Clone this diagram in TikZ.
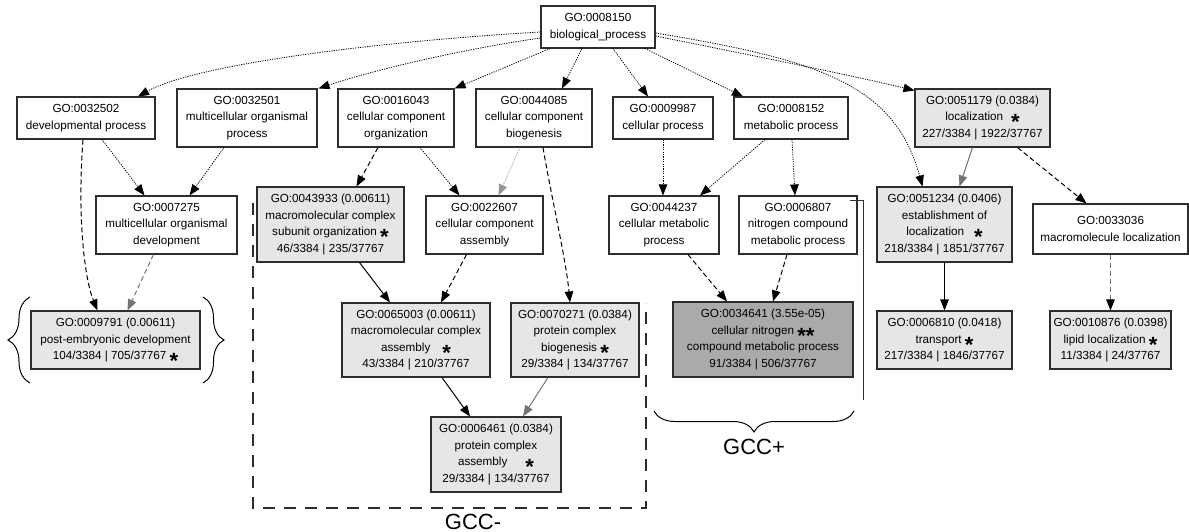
\documentclass[tikz,border=0pt]{standalone}
\usepackage{fontspec}
\setmainfont{Liberation Sans}
\usetikzlibrary{arrows.meta,calc,decorations.pathreplacing}
\definecolor{lightbox}{RGB}{230,230,230}
\definecolor{darkbox}{RGB}{170,170,170}
\definecolor{edgegray}{RGB}{115,115,115}
\definecolor{lightedge}{RGB}{150,150,150}
\definecolor{boxline}{RGB}{45,45,45}
\newcommand{\gostar}{\raisebox{-9pt}[0pt][0pt]{\fontsize{22}{22}\selectfont\bfseries *}}
\begin{document}
\begin{tikzpicture}[x=1pt,y=-1pt,
  >={Triangle[length=11pt,width=8.5pt]},
  gobox/.style={draw=boxline, line width=1.1pt, fill=white, inner sep=0pt, align=center, font=\fontsize{11.7}{16.5}\selectfont},
  sigbox/.style={gobox, fill=lightbox},
  topbox/.style={gobox, fill=darkbox},
  dotE/.style={->, line width=0.8pt, dash pattern=on 1.2pt off 1.2pt, black},
  dotLG/.style={->, line width=0.8pt, dash pattern=on 1.2pt off 1.2pt, lightedge},
  dashE/.style={->, line width=1pt, dash pattern=on 5pt off 3pt, black},
  dashG/.style={->, line width=1pt, dash pattern=on 5pt off 3pt, edgegray},
  dashGB/.style={-{Triangle[length=11pt,width=8.5pt,color=black]}, line width=1pt, dash pattern=on 5pt off 3pt, edgegray},
  solE/.style={->, line width=1pt, black},
  solG/.style={->, line width=1pt, edgegray},
  gccframe/.style={line width=1.2pt, dash pattern=on 12pt off 9pt, boxline},
  bracestyle/.style={decorate, line width=1pt, black},
  biglabel/.style={inner sep=0pt, font=\fontsize{22}{22}\selectfont}
]
\useasboundingbox (0,0) rectangle (1189,532);

% row 0
\node[gobox, minimum width=114pt, minimum height=42pt] (root) at (598,27) {GO:0008150\\biological\_process};
% row 1
\node[gobox, minimum width=138pt, minimum height=42pt] (n32502) at (86,118) {GO:0032502\\developmental process};
\node[gobox, minimum width=140pt, minimum height=58pt] (n32501) at (247,118) {GO:0032501\\multicellular organismal\\process};
\node[gobox, minimum width=116pt, minimum height=58pt] (n16043) at (396,118) {GO:0016043\\cellular component\\organization};
\node[gobox, minimum width=116pt, minimum height=58pt] (n44085) at (534,118) {GO:0044085\\cellular component\\biogenesis};
\node[gobox, minimum width=100pt, minimum height=42pt] (n9987) at (663,118) {GO:0009987\\cellular process};
\node[gobox, minimum width=114pt, minimum height=42pt] (n8152) at (791,118) {GO:0008152\\metabolic process};
\node[sigbox, minimum width=135pt, minimum height=58pt] (n51179) at (982.5,118) {GO:0051179 (0.0384)\\localization\hspace{8pt}\gostar\\227/3384 | 1922/37767};
% row 2
\node[gobox, minimum width=141pt, minimum height=58pt] (n7275) at (166.5,225) {GO:0007275\\multicellular organismal\\development};
\node[sigbox, minimum width=147pt, minimum height=75pt] (n43933) at (330.5,224.5) {GO:0043933 (0.00611)\\macromolecular complex\\subunit organization \gostar\\46/3384 | 235/37767};
\node[gobox, minimum width=117pt, minimum height=58pt] (n22607) at (484.5,225) {GO:0022607\\cellular component\\assembly};
\node[gobox, minimum width=110pt, minimum height=58pt] (n44237) at (664,225) {GO:0044237\\cellular metabolic\\process};
\node[gobox, minimum width=118pt, minimum height=58pt] (n6807) at (798,225) {GO:0006807\\nitrogen compound\\metabolic process};
\node[sigbox, minimum width=135pt, minimum height=75pt] (n51234) at (944.5,224.5) {GO:0051234 (0.0406)\\establishment of\\localization\hspace{10pt}\gostar\\218/3384 | 1851/37767};
\node[gobox, minimum width=155pt, minimum height=50pt] (n33036) at (1110.5,229) {GO:0033036\\macromolecule localization};
% row 3
\node[sigbox, minimum width=169pt, minimum height=58pt] (n9791) at (115.5,340) {GO:0009791 (0.00611)\\post-embryonic development\\104/3384 | 705/37767 \gostar};
\node[sigbox, minimum width=148pt, minimum height=74pt] (n65003) at (416,340) {GO:0065003 (0.00611)\\macromolecular complex\\assembly\hspace{12pt}\gostar\\43/3384 | 210/37767};
\node[sigbox, minimum width=128pt, minimum height=74pt] (n70271) at (575,340) {GO:0070271 (0.0384)\\protein complex\\biogenesis \gostar\\29/3384 | 134/37767};
\node[topbox, minimum width=180pt, minimum height=75pt] (n34641) at (763,339.5) {GO:0034641 (3.55e-05)\\cellular nitrogen \gostar\gostar\\compound metabolic process\\91/3384 | 506/37767};
\node[sigbox, minimum width=135pt, minimum height=58pt] (n6810) at (944.5,340) {GO:0006810 (0.0418)\\transport \gostar\\217/3384 | 1846/37767};
\node[sigbox, minimum width=121pt, minimum height=58pt] (n10876) at (1110.5,340) {GO:0010876 (0.0398)\\lipid localization \gostar\\11/3384 | 24/37767};
% row 4
\node[sigbox, minimum width=130pt, minimum height=75pt] (n6461) at (496,454.5) {GO:0006461 (0.0384)\\protein complex\\assembly\hspace{18pt}\gostar\\29/3384 | 134/37767};

% edges from root
\draw[dotE] ($(root.west)+(0,5)$) .. controls (400,40) and (200,62) .. ($(n32502.north)+(52,0)$);
\draw[dotE] ($(root.west)+(0,11)$) .. controls (470,48) and (380,68) .. ($(n32501.north east)+(1,0)$);
\draw[dotE] ($(root.south)+(-48,0)$) -- (n16043.north east);
\draw[dotE] ($(root.south)+(-16,0)$) -- ($(n44085.north)+(28,0)$);
\draw[dotE] ($(root.south)+(15,0)$) -- ($(n9987.north)+(-15,0)$);
\draw[dotE] ($(root.south)+(47,0)$) -- ($(n8152.north)+(-48,0)$);
\draw[dotE] ($(root.east)+(0,9)$) .. controls (750,55) and (850,75) .. ($(n51179.north west)+(0,2)$);
\draw[dotE] ($(root.east)+(0,6)$) .. controls (820,60) and (895,85) .. ($(n51234.north)+(-22,0)$);

% edges row 1 -> row 2/3
\draw[dashE] ($(n32502.south)+(-3,0)$) .. controls (77,220) and (85,280) .. ($(n9791.north)+(-18,0)$);
\draw[dotE] ($(n32502.south)+(16,0)$) -- ($(n7275.north)+(-22,0)$);
\draw[dotE] ($(n32501.south)+(-23,0)$) -- ($(n7275.north)+(23,0)$);
\draw[dashG] ($(n7275.south)+(-13,0)$) -- ($(n9791.north)+(12,0)$);
\draw[dashE] ($(n16043.south)+(-18,0)$) -- ($(n43933.north)+(26,0)$);
\draw[dotE] ($(n16043.south)+(24,0)$) -- ($(n22607.north)+(-25,0)$);
\draw[dotLG] ($(n44085.south)+(-14,0)$) -- ($(n22607.north)+(14,0)$);
\draw[dashE] ($(n44085.south)+(9,0)$) .. controls (552,200) and (566,260) .. ($(n70271.north)+(-5,0)$);
\draw[dotE] (n9987.south) -- (n9987.south |- n44237.north);
\draw[dotE] ($(n8152.south)+(-26,0)$) -- ($(n44237.north)+(36,0)$);
\draw[dotE] ($(n8152.south)+(1,0)$) -- ($(n6807.north)+(-3,0)$);
\draw[solG] ($(n51179.south)+(-10,0)$) -- ($(n51234.north)+(15,0)$);
\draw[dashE] ($(n51179.south)+(35,0)$) -- ($(n33036.north)+(-24,0)$);
% edges row 2 -> row 3
\draw[solE] ($(n43933.south)+(29,0)$) -- ($(n65003.north)+(-26,0)$);
\draw[dashE] ($(n22607.south)+(-18,0)$) -- ($(n65003.north)+(25,0)$);
\draw[dashE] ($(n44237.south)+(24,0)$) -- ($(n34641.north)+(-36,0)$);
\draw[dashE] ($(n6807.south)+(-11,0)$) -- ($(n34641.north)+(10,0)$);
\draw[solE] (n51234.south) -- (n6810.north);
\draw[dashGB] (n33036.south) -- (n10876.north);
% edges row 3 -> row 4
\draw[solE] ($(n65003.south)+(26,0)$) -- ($(n6461.north)+(-26,0)$);
\draw[solG] ($(n70271.south)+(-27,0)$) -- ($(n6461.north)+(27,0)$);

% GCC- frame
\coordinate (gccTL) at (253,203);
\coordinate (gccBL) at (253,508);
\coordinate (gccBR) at (646,508);
\coordinate (gccTR) at (646,303);
\draw[gccframe] (gccTL) -- (gccBL) -- (gccBR) -- (gccTR);
\node[biglabel] (gccminus) at (473,522) {GCC-};

% GCC+ brace and line
\draw[bracestyle, decoration={brace, amplitude=21pt}] (854,411) -- (654,411);
\node[biglabel] (gccplus) at (754,447) {GCC+};
\draw[line width=0.9pt, boxline] (850,200) -- (863,200) -- (863,400);

% braces around post-embryonic development
\draw[bracestyle, decoration={brace, amplitude=22pt}] (30,383) -- (30,297);
\draw[bracestyle, decoration={brace, amplitude=21pt}] (203,297) -- (203,383);
\end{tikzpicture}
\end{document}
